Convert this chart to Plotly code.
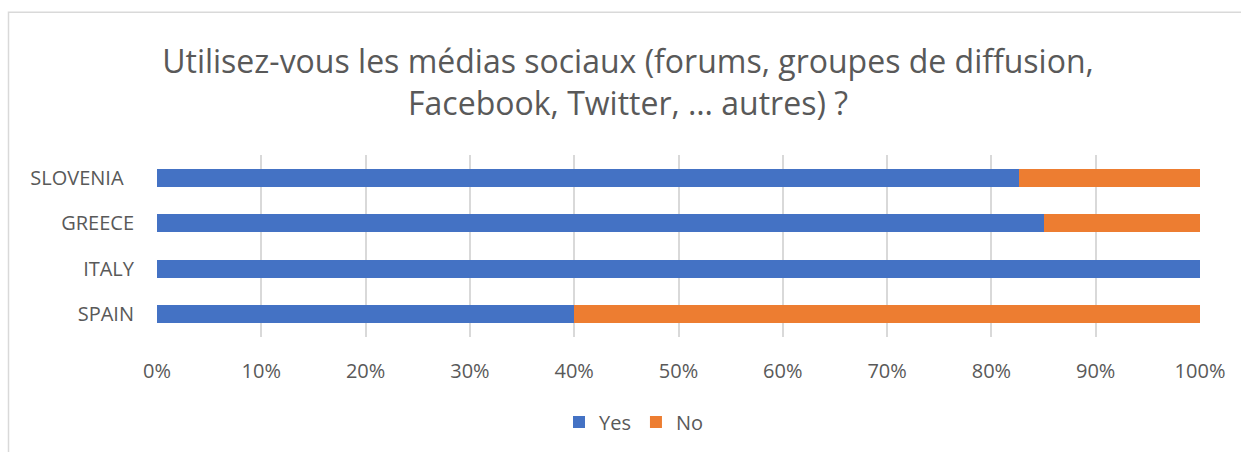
import plotly.graph_objects as go

countries = ["SPAIN", "ITALY", "GREECE", "SLOVENIA\u00a0\u00a0"]
yes_pct = [40, 100, 85, 82.6]
no_pct = [60, 0, 15, 17.4]
x_ticks = list(range(0, 101, 10))
x_tick_labels = [f"{v}%" for v in x_ticks]

BLUE = "#4472C4"
ORANGE = "#ED7D31"
GRAY = "#595959"
FONT = "Open Sans"

fig = go.Figure()
fig.add_trace(go.Bar(y=countries, x=yes_pct, name="Yes", orientation="h",
                     marker=dict(color=BLUE, line=dict(width=0))))
fig.add_trace(go.Bar(y=countries, x=no_pct, name="No", orientation="h",
                     marker=dict(color=ORANGE, line=dict(width=0))))

L, R, T, B = 157, 41, 155, 114
W, H = 1241, 452
pw, ph = W - L - R, H - T - B

def px_x(p):
    return (p - L) / pw

def px_y(p):
    return (H - B - p) / ph

fig.update_layout(
    width=W, height=H,
    margin=dict(l=L, r=R, t=T, b=B, pad=0),
    barmode="stack",
    bargap=0.607,
    paper_bgcolor="white",
    plot_bgcolor="white",
    font=dict(family=FONT, color=GRAY, size=20),
    title=dict(
        text="Utilisez-vous les médias sociaux (forums, groupes de diffusion,<br>Facebook, Twitter, … autres) ?",
        x=628 / W, xanchor="center", xref="container",
        y=1 - 73 / H, yanchor="middle", yref="container",
        font=dict(family=FONT, size=32, color=GRAY),
    ),
    xaxis=dict(
        range=[0, 100],
        tickvals=x_ticks,
        ticktext=x_tick_labels,
        showgrid=True, gridcolor="#d9d9d9", gridwidth=1.5,
        zeroline=False, showline=False, ticks="",
        ticklabelstandoff=20,
        tickfont=dict(size=20, color=GRAY),
        fixedrange=True,
    ),
    yaxis=dict(
        showgrid=False, zeroline=False, showline=False, ticks="",
        ticklabelstandoff=22,
        tickfont=dict(size=20, color=GRAY),
        fixedrange=True,
    ),
    legend=dict(
        orientation="h", x=px_x(634), xanchor="center",
        y=px_y(422), yanchor="middle",
        font=dict(size=20, color=GRAY),
        itemwidth=30,
        traceorder="normal",
    ),
    shapes=[dict(
        type="rect", xref="paper", yref="paper",
        x0=px_x(8.5), x1=px_x(1260), y0=px_y(470), y1=px_y(11.5),
        line=dict(color="#d9d9d9", width=1.5), fillcolor="rgba(0,0,0,0)",
        layer="below",
    )],
)

fig.write_html("out.html")
